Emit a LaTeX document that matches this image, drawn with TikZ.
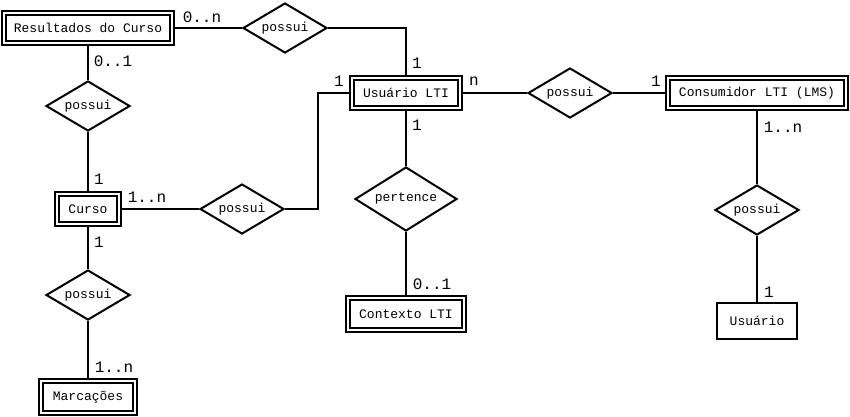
\documentclass[tikz,border=0pt]{standalone}
\usepackage{fontspec}
\newfontfamily\mono{Liberation Mono}
\usetikzlibrary{shapes.geometric}

\begin{document}
\begin{tikzpicture}[
		x=1pt, y=-1pt,
		line width=2pt,
		every node/.style={
			font=\mono\fontsize{13}{15}\selectfont,
			inner sep=0pt
		},
		entidade/.style={
			rectangle,
			draw,
			double,
			double distance=2pt
		},
		fraca/.style={
			rectangle,
			draw
		},
		relacao/.style={
			diamond,
			draw,
			aspect=1.65,
			minimum width=84pt,
			minimum height=50pt
		},
		card/.style={
			font=\mono\fontsize{16}{18}\selectfont
		}]

		\useasboundingbox (0,0) rectangle (850,416);

		%entidades
		\node[entidade, minimum width=168pt, minimum height=30pt] at (88,28) (res) {Resultados do Curso};
		\node[entidade, minimum width=108pt, minimum height=30pt] at (406,93) (uslti) {Usuário LTI};
		\node[entidade, minimum width=178pt, minimum height=30pt] at (757,93) (cons) {Consumidor LTI (LMS)};
		\node[entidade, minimum width=62pt, minimum height=30pt] at (88,209) (curso) {Curso};
		\node[entidade, minimum width=94pt, minimum height=32pt] at (88,397) (marc) {Marcações};
		\node[entidade, minimum width=116pt, minimum height=32pt] at (406,314) (ctx) {Contexto LTI};
		\node[fraca, minimum width=80pt, minimum height=36pt] at (757,321) (usu) {Usuário};

		%relacoes
		\node[relacao] at (285,28) (p1) {possui};
		\node[relacao] at (88,106) (p2) {possui};
		\node[relacao] at (242,209) (p3) {possui};
		\node[relacao, minimum width=102pt, minimum height=64pt] at (406,199) (pert) {pertence};
		\node[relacao] at (570,93) (p4) {possui};
		\node[relacao] at (757,210) (p5) {possui};
		\node[relacao] at (88,295) (p6) {possui};

		\coordinate (dobra) at (318,209);

		%ligacoes
		\draw (res.east) -- (p1.west);
		\draw (p1.east) -| (uslti.north);
		\draw (res.south) -- (p2.north);
		\draw (p2.south) -- (curso.north);
		\draw (curso.east) -- (p3.west);
		\draw (p3.east) -- (dobra) |- (uslti.west);
		\draw (uslti.south) -- (pert.north);
		\draw (pert.south) -- (ctx.north);
		\draw (uslti.east) -- (p4.west);
		\draw (p4.east) -- (cons.west);
		\draw (cons.south) -- (p5.north);
		\draw (p5.south) -- (usu.north);
		\draw (curso.south) -- (p6.north);
		\draw (p6.south) -- (marc.north);

		%cardinalidades
		\node[card] at (202,17) (c1) {0..n};
		\node[card] at (417,63) (c2) {1};
		\node[card] at (113,61) (c3) {0..1};
		\node[card] at (99,179) (c4) {1};
		\node[card] at (147,197) (c5) {1..n};
		\node[card] at (339,81) (c6) {1};
		\node[card] at (417,125) (c7) {1};
		\node[card] at (432,284) (c8) {0..1};
		\node[card] at (474,81) (c9) {n};
		\node[card] at (656,81) (c10) {1};
		\node[card] at (783,127) (c11) {1..n};
		\node[card] at (769,292) (c12) {1};
		\node[card] at (99,242) (c13) {1};
		\node[card] at (114,367) (c14) {1..n};

	\end{tikzpicture}
\end{document}
